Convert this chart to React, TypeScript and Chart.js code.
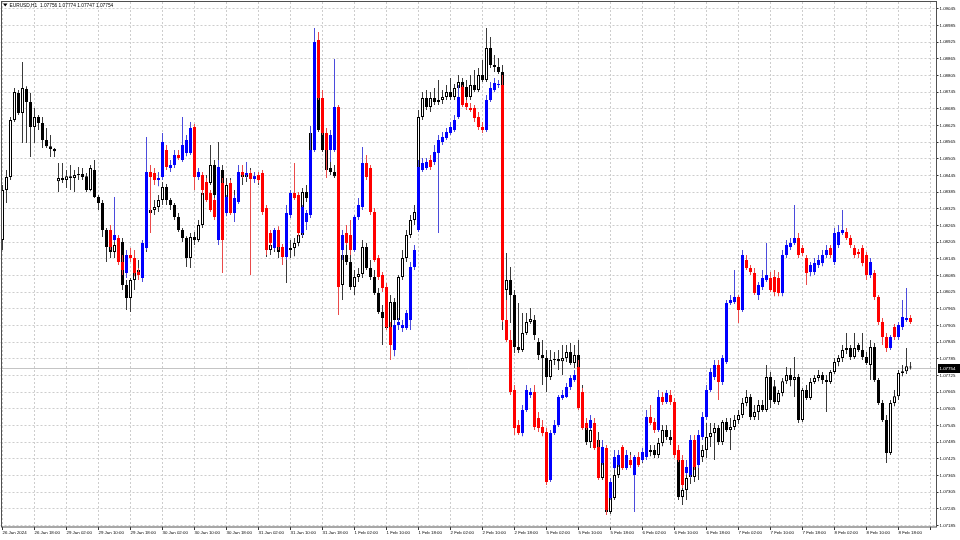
import React, { useEffect, useRef } from 'react';
import { Chart, registerables } from 'chart.js';

Chart.register(...registerables);

// ---------- text / axis data ----------
const symbolTitle = 'EURUSD,H1';
const titleValues = [1.07756, 1.07774, 1.07747, 1.07754]; // O H L C of the last bar
const lastPrice = 1.07754;
const xTickLabels = [
  '26 Jan 2024', '26 Jan 18:00', '29 Jan 02:00', '29 Jan 10:00', '29 Jan 18:00', '30 Jan 02:00',
  '30 Jan 10:00', '30 Jan 18:00', '31 Jan 02:00', '31 Jan 10:00', '31 Jan 18:00', '1 Feb 02:00',
  '1 Feb 10:00', '1 Feb 18:00', '2 Feb 02:00', '2 Feb 10:00', '2 Feb 18:00', '5 Feb 02:00',
  '5 Feb 10:00', '5 Feb 18:00', '6 Feb 02:00', '6 Feb 10:00', '6 Feb 18:00', '7 Feb 02:00',
  '7 Feb 10:00', '7 Feb 18:00', '8 Feb 02:00', '8 Feb 10:00', '8 Feb 18:00',
];
const xTickStep = 8;
const shiftBars = 6;
const yTicks = [
  1.09045, 1.08985, 1.08925, 1.08865, 1.08805, 1.08745, 1.08685, 1.08625, 1.08565, 1.08505,
  1.08445, 1.08385, 1.08325, 1.08265, 1.08205, 1.08145, 1.08085, 1.08025, 1.07965, 1.07905,
  1.07845, 1.07785, 1.07725, 1.07665, 1.07605, 1.07545, 1.07485, 1.07425, 1.07365, 1.07305,
  1.07245, 1.07185,
];
const yMin = 1.0718;
const yMax = 1.0907;

// ---------- main series (black / white candles) ----------
const bOpen = [
  1.08213,1.08393,1.08440,1.08645,1.08742,1.08670,1.08757,1.08710,1.08620,1.08656,
  1.08634,1.08573,1.08551,1.08541,1.08425,1.08436,1.08429,1.08443,1.08436,1.08447,
  1.08451,1.08443,1.08393,1.08465,1.08368,1.08346,1.08249,1.08188,1.08170,1.08195,
  1.08206,1.08051,1.08004,1.08069,1.08105,1.08098,1.08184,1.08310,1.08321,1.08332,
  1.08357,1.08404,1.08357,1.08339,1.08296,1.08249,1.08220,1.08148,1.08224,1.08213,
  1.08267,1.08382,1.08418,1.08483,1.08375,1.08465,1.08321,1.08411,1.08350,1.08364,
  1.08447,1.08440,1.08447,1.08443,1.08436,1.08429,1.08314,1.08177,1.08195,1.08213,
  1.08170,1.08159,1.08177,1.08184,1.08202,1.08231,1.08386,1.08364,1.08598,1.08836,
  1.08609,1.08537,1.08472,1.08458,1.08443,1.08051,1.08159,1.08134,1.08044,1.08080,
  1.08091,1.08188,1.08112,1.08080,1.08022,1.07954,1.07932,1.07896,1.07990,1.07925,
  1.08080,1.08148,1.08231,1.08285,1.08314,1.08656,1.08724,1.08692,1.08724,1.08710,
  1.08717,1.08728,1.08746,1.08728,1.08760,1.08782,1.08764,1.08728,1.08771,1.08753,
  1.08807,1.08789,1.08904,1.08843,1.08836,1.08818,1.08033,1.08069,1.08015,1.07828,
  1.07817,1.07878,1.07918,1.07925,1.07846,1.07799,1.07788,1.07720,1.07781,1.07785,
  1.07777,1.07788,1.07810,1.07770,1.07799,1.07666,1.07536,1.07486,1.07529,1.07493,
  1.07356,1.07414,1.07234,1.07284,1.07367,1.07432,1.07403,1.07421,1.07410,1.07428,
  1.07421,1.07439,1.07450,1.07457,1.07439,1.07482,1.07529,1.07504,1.07493,1.07457,
  1.07288,1.07313,1.07371,1.07360,1.07410,1.07432,1.07457,1.07504,1.07518,1.07536,
  1.07486,1.07558,1.07529,1.07540,1.07565,1.07583,1.07626,1.07648,1.07576,1.07594,
  1.07619,1.07601,1.07720,1.07687,1.07630,1.07662,1.07705,1.07727,1.07709,1.07720,
  1.07565,1.07673,1.07644,1.07702,1.07716,1.07727,1.07709,1.07702,1.07738,1.07774,
  1.07788,1.07817,1.07824,1.07792,1.07835,1.07817,1.07792,1.07763,1.07828,1.07709,
  1.07626,1.07565,1.07446,1.07626,1.07651,1.07734,1.07741,1.07756,
];
const bHigh = [
  1.08411,1.08465,1.08656,1.08760,1.08753,1.08854,1.08767,1.08742,1.08688,1.08663,
  1.08656,1.08616,1.08591,1.08544,1.08490,1.08490,1.08465,1.08483,1.08465,1.08476,
  1.08472,1.08454,1.08483,1.08501,1.08375,1.08357,1.08256,1.08213,1.08213,1.08220,
  1.08220,1.08069,1.08076,1.08134,1.08141,1.08213,1.08328,1.08346,1.08357,1.08375,
  1.08422,1.08415,1.08364,1.08346,1.08310,1.08256,1.08227,1.08238,1.08242,1.08285,
  1.08400,1.08447,1.08555,1.08501,1.08566,1.08483,1.08436,1.08436,1.08393,1.08472,
  1.08479,1.08465,1.08472,1.08458,1.08451,1.08443,1.08328,1.08220,1.08227,1.08231,
  1.08195,1.08213,1.08213,1.08220,1.08256,1.08400,1.08411,1.08623,1.08976,1.08933,
  1.08753,1.08573,1.08501,1.08483,1.08458,1.08184,1.08195,1.08159,1.08105,1.08112,
  1.08213,1.08202,1.08141,1.08105,1.08040,1.07979,1.07997,1.08015,1.08004,1.08087,
  1.08177,1.08249,1.08303,1.08339,1.08681,1.08746,1.08753,1.08746,1.08760,1.08789,
  1.08753,1.08771,1.08796,1.08775,1.08807,1.08796,1.08789,1.08807,1.08825,1.08832,
  1.08861,1.08976,1.08944,1.08879,1.08868,1.08843,1.08166,1.08116,1.08033,1.07986,
  1.07950,1.07950,1.07968,1.07943,1.07860,1.07853,1.07817,1.07817,1.07810,1.07817,
  1.07835,1.07835,1.07842,1.07835,1.07853,1.07691,1.07565,1.07547,1.07547,1.07522,
  1.07439,1.07421,1.07313,1.07385,1.07457,1.07457,1.07439,1.07450,1.07439,1.07450,
  1.07457,1.07475,1.07475,1.07475,1.07500,1.07547,1.07547,1.07529,1.07511,1.07475,
  1.07349,1.07385,1.07392,1.07421,1.07450,1.07475,1.07554,1.07554,1.07554,1.07547,
  1.07565,1.07572,1.07572,1.07583,1.07601,1.07644,1.07673,1.07659,1.07619,1.07637,
  1.07637,1.07763,1.07738,1.07709,1.07673,1.07716,1.07756,1.07752,1.07792,1.07731,
  1.07680,1.07691,1.07716,1.07727,1.07745,1.07738,1.07727,1.07745,1.07788,1.07799,
  1.07835,1.07878,1.07835,1.07878,1.07842,1.07878,1.07810,1.07853,1.07842,1.07716,
  1.07637,1.07583,1.07637,1.07673,1.07745,1.07763,1.07824,1.07774,
];
const bLow = [
  1.08177,1.08346,1.08429,1.08638,1.08663,1.08562,1.08562,1.08512,1.08562,1.08609,
  1.08544,1.08544,1.08512,1.08512,1.08386,1.08418,1.08400,1.08393,1.08386,1.08429,
  1.08429,1.08386,1.08389,1.08364,1.08321,1.08224,1.08134,1.08148,1.08148,1.08159,
  1.08033,1.07961,1.07954,1.08033,1.08069,1.08087,1.08170,1.08238,1.08303,1.08314,
  1.08339,1.08339,1.08321,1.08285,1.08242,1.08206,1.08116,1.08112,1.08195,1.08206,
  1.08256,1.08371,1.08411,1.08357,1.08368,1.08285,1.08303,1.08339,1.08314,1.08357,
  1.08411,1.08422,1.08429,1.08422,1.08411,1.08303,1.08152,1.08159,1.08170,1.08148,
  1.08134,1.08058,1.08148,1.08155,1.08191,1.08220,1.08350,1.08357,1.08587,1.08602,
  1.08530,1.08440,1.08447,1.08436,1.08033,1.07997,1.08123,1.08033,1.08015,1.08062,
  1.08076,1.08105,1.08069,1.08015,1.07947,1.07835,1.07889,1.07792,1.07907,1.07907,
  1.08069,1.08134,1.08220,1.08267,1.08303,1.08645,1.08681,1.08674,1.08699,1.08699,
  1.08703,1.08717,1.08717,1.08717,1.08746,1.08746,1.08717,1.08717,1.08746,1.08746,
  1.08782,1.08782,1.08832,1.08818,1.08811,1.07889,1.07997,1.07914,1.07806,1.07806,
  1.07810,1.07871,1.07911,1.07853,1.07781,1.07691,1.07666,1.07709,1.07763,1.07745,
  1.07727,1.07774,1.07763,1.07752,1.07655,1.07529,1.07475,1.07464,1.07475,1.07349,
  1.07349,1.07223,1.07227,1.07277,1.07356,1.07385,1.07385,1.07392,1.07385,1.07403,
  1.07410,1.07421,1.07435,1.07428,1.07428,1.07471,1.07493,1.07475,1.07439,1.07277,
  1.07259,1.07277,1.07335,1.07342,1.07349,1.07414,1.07428,1.07468,1.07421,1.07475,
  1.07475,1.07522,1.07457,1.07529,1.07551,1.07572,1.07615,1.07565,1.07565,1.07565,
  1.07594,1.07594,1.07608,1.07623,1.07619,1.07651,1.07695,1.07687,1.07648,1.07554,
  1.07558,1.07637,1.07637,1.07695,1.07705,1.07695,1.07594,1.07695,1.07731,1.07759,
  1.07774,1.07803,1.07781,1.07785,1.07810,1.07781,1.07763,1.07709,1.07702,1.07619,
  1.07558,1.07410,1.07439,1.07615,1.07637,1.07723,1.07731,1.07747,
];
const bClose = [
  1.08393,1.08440,1.08645,1.08746,1.08670,1.08760,1.08710,1.08620,1.08656,1.08634,
  1.08573,1.08551,1.08541,1.08533,1.08436,1.08429,1.08443,1.08436,1.08447,1.08451,
  1.08440,1.08393,1.08472,1.08368,1.08346,1.08249,1.08188,1.08170,1.08195,1.08206,
  1.08051,1.08004,1.08069,1.08105,1.08098,1.08184,1.08310,1.08321,1.08332,1.08357,
  1.08404,1.08357,1.08339,1.08296,1.08249,1.08220,1.08148,1.08224,1.08213,1.08267,
  1.08382,1.08418,1.08483,1.08375,1.08465,1.08321,1.08411,1.08350,1.08364,1.08447,
  1.08440,1.08447,1.08443,1.08436,1.08429,1.08314,1.08177,1.08195,1.08213,1.08170,
  1.08159,1.08177,1.08184,1.08202,1.08231,1.08386,1.08364,1.08598,1.08836,1.08609,
  1.08537,1.08465,1.08458,1.08443,1.08051,1.08159,1.08134,1.08044,1.08080,1.08091,
  1.08188,1.08112,1.08080,1.08022,1.07954,1.07932,1.07896,1.07990,1.07925,1.08080,
  1.08148,1.08231,1.08285,1.08314,1.08656,1.08724,1.08692,1.08724,1.08710,1.08717,
  1.08728,1.08746,1.08728,1.08760,1.08782,1.08764,1.08728,1.08771,1.08753,1.08807,
  1.08789,1.08904,1.08843,1.08836,1.08818,1.08033,1.08069,1.08015,1.07828,1.07817,
  1.07878,1.07918,1.07929,1.07871,1.07799,1.07788,1.07720,1.07781,1.07785,1.07777,
  1.07788,1.07810,1.07770,1.07799,1.07666,1.07536,1.07486,1.07529,1.07493,1.07356,
  1.07414,1.07234,1.07284,1.07367,1.07432,1.07403,1.07421,1.07410,1.07428,1.07421,
  1.07439,1.07450,1.07457,1.07439,1.07482,1.07529,1.07504,1.07493,1.07457,1.07288,
  1.07313,1.07356,1.07360,1.07410,1.07432,1.07457,1.07504,1.07518,1.07536,1.07486,
  1.07558,1.07529,1.07540,1.07565,1.07583,1.07626,1.07648,1.07576,1.07594,1.07619,
  1.07601,1.07720,1.07637,1.07630,1.07662,1.07705,1.07727,1.07709,1.07720,1.07565,
  1.07673,1.07644,1.07702,1.07716,1.07727,1.07709,1.07702,1.07738,1.07774,1.07788,
  1.07817,1.07824,1.07792,1.07824,1.07817,1.07792,1.07770,1.07828,1.07709,1.07626,
  1.07565,1.07446,1.07626,1.07651,1.07734,1.07741,1.07759,1.07754,
];

// ---------- overlay series (blue / red candles), starts at bar 27 ----------
const colorStart = 27;
const cOpen = [
  1.08249,1.08213,1.08220,1.08134,1.08094,1.08159,1.08148,1.08098,1.08076,1.08184,
  1.08458,1.08454,1.08429,1.08440,1.08537,1.08472,1.08483,1.08519,1.08501,1.08526,
  1.08526,1.08620,1.08440,1.08447,1.08422,1.08382,1.08357,1.08213,1.08418,1.08310,
  1.08418,1.08310,1.08350,1.08458,1.08447,1.08454,1.08433,1.08447,1.08454,1.08328,
  1.08238,1.08184,1.08249,1.08188,1.08152,1.08303,1.08382,1.08375,1.08238,1.08278,
  1.08303,1.08537,1.08933,1.08724,1.08598,1.08537,1.08537,1.08692,1.08177,1.08238,
  1.08231,1.08177,1.08296,1.08332,1.08490,1.08472,1.08314,1.08148,1.08087,1.08044,
  1.07900,1.07817,1.07907,1.07896,1.07896,1.07925,1.08116,1.08249,1.08465,1.08472,
  1.08501,1.08494,1.08526,1.08566,1.08580,1.08598,1.08609,1.08656,1.08764,1.08706,
  1.08688,1.08688,1.08656,1.08620,1.08609,1.08717,1.08753,1.08771,1.08771,1.07925,
  1.07853,1.07673,1.07547,1.07518,1.07601,1.07655,1.07666,1.07572,1.07540,1.07522,
  1.07349,1.07518,1.07547,1.07644,1.07648,1.07684,1.07709,1.07756,1.07666,1.07554,
  1.07536,1.07554,1.07468,1.07410,1.07464,1.07284,1.07392,1.07403,1.07468,1.07392,
  1.07421,1.07367,1.07432,1.07421,1.07432,1.07576,1.07558,1.07529,1.07648,1.07630,
  1.07655,1.07630,1.07457,1.07421,1.07374,1.07367,1.07493,1.07403,1.07504,1.07576,
  1.07673,1.07720,1.07763,1.07702,1.07774,1.07986,1.07990,1.08008,1.07961,1.08141,
  1.08112,1.08094,1.08015,1.08044,1.08069,1.08076,1.08080,1.08076,1.08022,1.08159,
  1.08188,1.08202,1.08220,1.08184,1.08148,1.08098,1.08098,1.08123,1.08130,1.08159,
  1.08184,1.08134,1.08195,1.08238,1.08242,1.08220,1.08184,1.08170,1.08184,1.08159,
  1.08087,1.08094,1.08008,1.07918,1.07864,1.07824,1.07900,1.07864,1.07900,1.07925,
  1.07932,
];
const cHigh = [
  1.08267,1.08368,1.08231,1.08159,1.08177,1.08184,1.08177,1.08112,1.08213,1.08584,
  1.08483,1.08472,1.08458,1.08598,1.08555,1.08501,1.08537,1.08537,1.08656,1.08591,
  1.08638,1.08631,1.08472,1.08458,1.08436,1.08393,1.08364,1.08501,1.08436,1.08375,
  1.08429,1.08375,1.08483,1.08483,1.08494,1.08465,1.08458,1.08458,1.08465,1.08339,
  1.08249,1.08256,1.08263,1.08199,1.08339,1.08393,1.08490,1.08386,1.08339,1.08321,
  1.08623,1.08976,1.08962,1.08753,1.08616,1.08609,1.08865,1.08699,1.08249,1.08267,
  1.08285,1.08303,1.08364,1.08548,1.08519,1.08483,1.08328,1.08159,1.08098,1.08058,
  1.07918,1.07925,1.07932,1.07925,1.07961,1.08134,1.08195,1.08501,1.08508,1.08508,
  1.08519,1.08555,1.08591,1.08602,1.08616,1.08638,1.08663,1.08771,1.08771,1.08717,
  1.08706,1.08699,1.08674,1.08638,1.08735,1.08782,1.08796,1.08789,1.08807,1.07997,
  1.07889,1.07691,1.07565,1.07619,1.07691,1.07680,1.07691,1.07594,1.07565,1.07536,
  1.07529,1.07565,1.07655,1.07673,1.07698,1.07727,1.07745,1.07781,1.07680,1.07572,
  1.07583,1.07572,1.07493,1.07493,1.07475,1.07356,1.07457,1.07457,1.07475,1.07457,
  1.07439,1.07439,1.07450,1.07464,1.07601,1.07619,1.07572,1.07673,1.07666,1.07673,
  1.07673,1.07644,1.07475,1.07439,1.07421,1.07511,1.07511,1.07529,1.07594,1.07691,
  1.07752,1.07781,1.07781,1.07799,1.07997,1.08015,1.08105,1.08015,1.08177,1.08159,
  1.08123,1.08112,1.08062,1.08105,1.08202,1.08098,1.08105,1.08098,1.08177,1.08213,
  1.08220,1.08339,1.08238,1.08195,1.08159,1.08134,1.08148,1.08159,1.08177,1.08195,
  1.08195,1.08256,1.08267,1.08321,1.08256,1.08231,1.08195,1.08181,1.08195,1.08170,
  1.08148,1.08105,1.08015,1.07932,1.07878,1.07871,1.07911,1.07918,1.07997,1.08040,
  1.07943,
];
const cLow = [
  1.08177,1.08206,1.08123,1.08087,1.08076,1.08134,1.08083,1.08069,1.08062,1.08177,
  1.08238,1.08411,1.08407,1.08429,1.08465,1.08458,1.08472,1.08501,1.08494,1.08515,
  1.08519,1.08393,1.08429,1.08375,1.08350,1.08314,1.08285,1.08195,1.08094,1.08299,
  1.08303,1.08278,1.08343,1.08436,1.08436,1.08087,1.08418,1.08418,1.08303,1.08159,
  1.08191,1.08177,1.08177,1.08123,1.08141,1.08292,1.08357,1.08227,1.08227,1.08249,
  1.08292,1.08530,1.08717,1.08591,1.08436,1.08494,1.08530,1.07943,1.08141,1.08195,
  1.08159,1.08170,1.08285,1.08321,1.08429,1.08303,1.08134,1.08069,1.08026,1.07889,
  1.07781,1.07795,1.07889,1.07882,1.07889,1.07889,1.08105,1.08242,1.08458,1.08465,
  1.08465,1.08483,1.08238,1.08555,1.08573,1.08591,1.08602,1.08649,1.08692,1.08681,
  1.08674,1.08638,1.08609,1.08598,1.08602,1.08710,1.08746,1.08760,1.07918,1.07846,
  1.07655,1.07511,1.07511,1.07507,1.07594,1.07644,1.07529,1.07522,1.07507,1.07331,
  1.07342,1.07511,1.07540,1.07637,1.07644,1.07673,1.07702,1.07601,1.07529,1.07529,
  1.07529,1.07457,1.07349,1.07403,1.07223,1.07277,1.07385,1.07396,1.07385,1.07385,
  1.07392,1.07234,1.07396,1.07414,1.07421,1.07547,1.07518,1.07522,1.07619,1.07623,
  1.07619,1.07428,1.07414,1.07320,1.07367,1.07356,1.07385,1.07392,1.07493,1.07565,
  1.07666,1.07709,1.07637,1.07691,1.07767,1.07979,1.07983,1.07914,1.07954,1.08105,
  1.08087,1.08015,1.07997,1.08033,1.08062,1.08026,1.08011,1.08011,1.08011,1.08148,
  1.08177,1.08195,1.08148,1.08155,1.08051,1.08083,1.08087,1.08112,1.08119,1.08148,
  1.08148,1.08123,1.08184,1.08231,1.08213,1.08184,1.08148,1.08148,1.08119,1.08069,
  1.08076,1.07997,1.07907,1.07835,1.07810,1.07817,1.07853,1.07853,1.07889,1.07918,
  1.07911,
];
const cClose = [
  1.08188,1.08231,1.08134,1.08105,1.08159,1.08148,1.08094,1.08087,1.08202,1.08458,
  1.08440,1.08429,1.08436,1.08566,1.08476,1.08483,1.08519,1.08508,1.08555,1.08573,
  1.08616,1.08440,1.08458,1.08393,1.08357,1.08321,1.08296,1.08476,1.08213,1.08368,
  1.08310,1.08364,1.08458,1.08447,1.08454,1.08433,1.08443,1.08429,1.08314,1.08177,
  1.08202,1.08249,1.08188,1.08152,1.08310,1.08382,1.08364,1.08238,1.08332,1.08310,
  1.08537,1.08926,1.08724,1.08598,1.08537,1.08591,1.08692,1.08044,1.08231,1.08202,
  1.08177,1.08296,1.08339,1.08490,1.08440,1.08314,1.08141,1.08080,1.08040,1.07900,
  1.07835,1.07907,1.07918,1.07907,1.07950,1.08116,1.08177,1.08476,1.08490,1.08494,
  1.08476,1.08530,1.08573,1.08584,1.08602,1.08620,1.08645,1.08728,1.08699,1.08692,
  1.08681,1.08652,1.08620,1.08609,1.08717,1.08760,1.08778,1.08775,1.07925,1.07853,
  1.07666,1.07536,1.07518,1.07601,1.07673,1.07666,1.07540,1.07536,1.07518,1.07342,
  1.07518,1.07547,1.07648,1.07655,1.07684,1.07716,1.07727,1.07608,1.07536,1.07536,
  1.07565,1.07464,1.07356,1.07468,1.07241,1.07342,1.07432,1.07439,1.07392,1.07439,
  1.07403,1.07432,1.07403,1.07450,1.07576,1.07554,1.07529,1.07648,1.07630,1.07662,
  1.07630,1.07439,1.07421,1.07331,1.07396,1.07493,1.07396,1.07511,1.07576,1.07673,
  1.07738,1.07763,1.07702,1.07788,1.07986,1.07997,1.08008,1.07961,1.08159,1.08112,
  1.08098,1.08022,1.08051,1.08076,1.08087,1.08033,1.08026,1.08022,1.08159,1.08195,
  1.08202,1.08220,1.08159,1.08166,1.08094,1.08123,1.08130,1.08141,1.08159,1.08177,
  1.08159,1.08238,1.08242,1.08249,1.08220,1.08195,1.08159,1.08163,1.08130,1.08087,
  1.08134,1.08008,1.07918,1.07864,1.07824,1.07864,1.07864,1.07907,1.07936,1.07932,
  1.07918,
];

// ---------- styles ----------
const GRID = '#cdcdcd';
const FRAME = '#505050';
const BLUE = '#0000ff';
const RED = '#ff0000';
const BLUE_WICK = '#4b4bdc';
const RED_WICK = '#ea4a4a';
const BLACK_WICK = '#3a3a3a';
const FONT = "'Liberation Sans', Arial, sans-serif";

const barCount = bOpen.length;
const totalSlots = barCount + shiftBars;
const labels = Array.from({ length: totalSlots }, (_, i) =>
  i % xTickStep === 0 ? xTickLabels[i / xTickStep] ?? '' : ''
);
const inMain = (i: number) => i < barCount;
const cIndex = (i: number) => {
  const k = i - colorStart;
  return k >= 0 && k < cOpen.length ? k : -1;
};

const blackWick = labels.map((_, i) => (inMain(i) ? [bLow[i], bHigh[i]] : null));
const blackBody = labels.map((_, i) => (inMain(i) ? [bOpen[i], bClose[i]] : null));
const blackFill = labels.map((_, i) => (inMain(i) && bClose[i] >= bOpen[i] ? '#ffffff' : '#000000'));
const colorWick = labels.map((_, i) => {
  const k = cIndex(i);
  return k >= 0 ? [cLow[k], cHigh[k]] : null;
});
const colorBody = labels.map((_, i) => {
  const k = cIndex(i);
  return k >= 0 ? [cOpen[k], cClose[k]] : null;
});
const colorFill = labels.map((_, i) => {
  const k = cIndex(i);
  return k >= 0 && cClose[k] < cOpen[k] ? RED : BLUE;
});
const colorWickFill = labels.map((_, i) => {
  const k = cIndex(i);
  return k >= 0 && cClose[k] < cOpen[k] ? RED_WICK : BLUE_WICK;
});

const mt4Plugin = {
  id: 'mt4Decor',
  beforeDatasetsDraw(chart: any) {
    const { ctx, chartArea, scales } = chart;
    const y = Math.round(scales.y.getPixelForValue(lastPrice)) + 0.5;
    ctx.save();
    ctx.strokeStyle = '#c4c4c4';
    ctx.lineWidth = 1;
    ctx.beginPath();
    ctx.moveTo(chartArea.left, y);
    ctx.lineTo(chartArea.right, y);
    ctx.stroke();
    ctx.restore();
  },
  afterDraw(chart: any) {
    const { ctx, chartArea, scales } = chart;
    ctx.save();
    // frame
    ctx.strokeStyle = FRAME;
    ctx.lineWidth = 1;
    ctx.strokeRect(1.5, 1.5, chartArea.right - 1.5, chartArea.bottom - 1.5);
    // title
    ctx.fillStyle = '#000';
    ctx.beginPath();
    ctx.moveTo(3, 3.5);
    ctx.lineTo(7.5, 3.5);
    ctx.lineTo(5.25, 6.5);
    ctx.closePath();
    ctx.fill();
    ctx.font = `4.8px ${FONT}`;
    ctx.textBaseline = 'middle';
    ctx.textAlign = 'left';
    ctx.fillText(`${symbolTitle}  ${titleValues.map((v) => v.toFixed(5)).join(' ')}`, 9.5, 5.2);
    // current price tag
    const y = scales.y.getPixelForValue(lastPrice);
    ctx.fillStyle = '#000';
    ctx.fillRect(chartArea.right + 1.5, Math.round(y) - 4, 960 - chartArea.right, 9);
    ctx.fillStyle = '#fff';
    ctx.font = `4.4px ${FONT}`;
    ctx.fillText(lastPrice.toFixed(5), chartArea.right + 3, Math.round(y) + 0.7);
    ctx.restore();
  },
};

export default function App() {
  const ref = useRef<HTMLCanvasElement>(null);
  useEffect(() => {
    document.body.style.margin = '0';
    const canvas = ref.current;
    if (!canvas) return;
    const chart = new Chart(canvas, {
      type: 'bar',
      data: {
        labels,
        datasets: [
          {
            label: 'overlay body',
            data: colorBody as any,
            backgroundColor: colorFill,
            borderWidth: 0,
            barThickness: 3,
            minBarLength: 1,
            grouped: false,
            inflateAmount: 0,
            order: 1,
          } as any,
          {
            label: 'overlay wick',
            data: colorWick as any,
            backgroundColor: colorWickFill,
            borderWidth: 0,
            barThickness: 1,
            grouped: false,
            inflateAmount: 0,
            order: 2,
          } as any,
          {
            label: 'body',
            data: blackBody as any,
            backgroundColor: blackFill,
            borderColor: '#000000',
            borderWidth: 1,
            borderSkipped: false,
            barThickness: 3,
            minBarLength: 1,
            grouped: false,
            inflateAmount: 0,
            order: 3,
          } as any,
          {
            label: 'wick',
            data: blackWick as any,
            backgroundColor: BLACK_WICK,
            borderWidth: 0,
            barThickness: 1,
            grouped: false,
            inflateAmount: 0,
            order: 4,
          } as any,
        ],
      },
      options: {
        responsive: false,
        animation: false,
        devicePixelRatio: 1,
        events: [],
        layout: { padding: { left: 0.5, top: 2, right: 0, bottom: 0 } },
        plugins: {
          legend: { display: false },
          tooltip: { enabled: false },
          title: { display: false },
        },
        scales: {
          x: {
            type: 'category',
            offset: true,
            grid: {
              offset: false,
              color: (c: any) => (c.index % xTickStep === 0 ? GRID : 'rgba(0,0,0,0)'),
              lineWidth: 1,
              borderDash: [2, 2],
              drawTicks: true,
              tickLength: 3,
              tickColor: (c: any) => (c.index % xTickStep === 0 ? '#333' : 'rgba(0,0,0,0)'),
              tickBorderDash: [],
            } as any,
            border: { display: false, dash: [2, 2] },
            ticks: {
              autoSkip: false,
              maxRotation: 0,
              minRotation: 0,
              align: 'start',
              padding: 0,
              color: '#000',
              font: { family: FONT, size: 4.4 },
            },
            afterFit: (s: any) => {
              s.height = 13;
              s.paddingLeft = 0;
              s.paddingRight = 0;
            },
          } as any,
          y: {
            type: 'linear',
            position: 'right',
            min: yMin,
            max: yMax,
            afterBuildTicks: (s: any) => {
              s.ticks = yTicks.map((v) => ({ value: v }));
            },
            grid: {
              color: GRID,
              lineWidth: 1,
              borderDash: [2, 2],
              tickLength: 2,
              tickColor: '#333',
              tickBorderDash: [],
            } as any,
            border: { display: false, dash: [2, 2] },
            ticks: {
              autoSkip: false,
              padding: 1,
              color: '#000',
              font: { family: FONT, size: 4.4 },
              callback: (v: any) => Number(v).toFixed(5),
            },
            afterFit: (s: any) => {
              s.width = 23.5;
              s.paddingTop = 0;
              s.paddingBottom = 0;
            },
          } as any,
        },
      } as any,
      plugins: [mt4Plugin],
    });
    return () => chart.destroy();
  }, []);
  return (
    <div style={{ width: 960, height: 540, background: '#ffffff' }}>
      <canvas ref={ref} width={960} height={540} style={{ display: 'block', width: 960, height: 540 }} />
    </div>
  );
}
